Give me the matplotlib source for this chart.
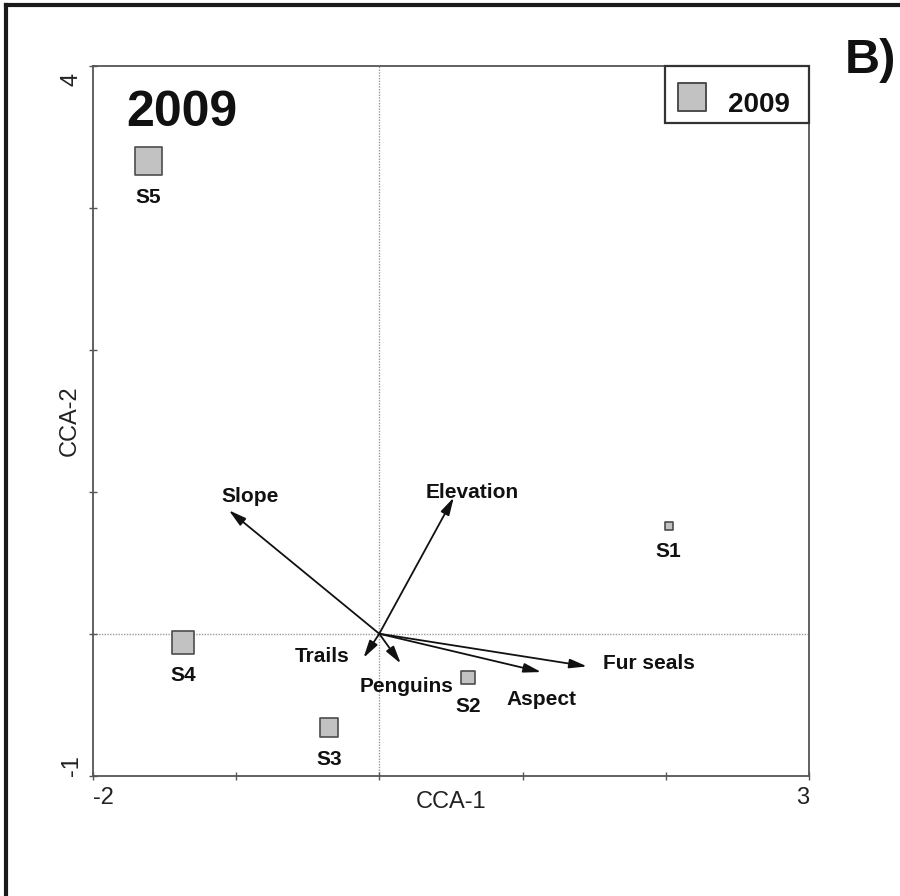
import matplotlib
matplotlib.use("Agg")
import matplotlib.pyplot as plt
from matplotlib.lines import Line2D
from matplotlib.patches import Rectangle
from matplotlib.transforms import ScaledTranslation

plt.rcParams['font.family'] = ['Liberation Sans', 'DejaVu Sans']

# site scores (CCA-1, CCA-2) and marker size
sites = ['S1', 'S2', 'S3', 'S4', 'S5']
site_x = [2.02, 0.62, -0.35, -1.37, -1.61]
site_y = [0.76, -0.31, -0.66, -0.06, 3.33]
site_size = [5.5, 9.5, 13.5, 16.5, 20.0]

# environmental variable arrows
env_vars = ['Slope', 'Elevation', 'Trails', 'Penguins', 'Aspect', 'Fur seals']
env_x = [-1.05, 0.52, -0.11, 0.15, 1.13, 1.45]
env_y = [0.87, 0.96, -0.17, -0.21, -0.27, -0.23]

year = '2009'

# where the arrow names sit (baseline centre)
env_lab_pos = [(-0.90, 0.93), (0.65, 0.955), (-0.40, -0.20),
               (0.19, -0.41), (1.13, -0.50), (1.88, -0.25)]

fill = '#c2c2c2'
edge = '#4d4d4d'
axcol = '#555555'

fig = plt.figure(figsize=(9, 8.96), dpi=100)
ax = fig.add_axes([0.103, 0.1343, 0.796, 0.792])
ax.set_xlim(-2, 3)
ax.set_ylim(-1, 4)

for s in ax.spines.values():
    s.set_color(axcol)
    s.set_linewidth(1.3)

ax.axhline(0, color='#9a9a9a', lw=1, ls=(0, (1, 1)), zorder=1)
ax.axvline(0, color='#9a9a9a', lw=1, ls=(0, (1, 1)), zorder=1)

# arrows
for name, x, y, (lx, ly) in zip(env_vars, env_x, env_y, env_lab_pos):
    ax.annotate('', xy=(x, y), xytext=(0, 0),
                arrowprops=dict(arrowstyle='-|>,head_length=0.75,head_width=0.2',
                                mutation_scale=14, color='#111111', lw=1.3,
                                shrinkA=0, shrinkB=0), zorder=3)
    ax.text(lx, ly, name, ha='center', va='baseline', fontsize=15,
            fontweight='bold', color='#111111', zorder=4)

# sites
ax.scatter(site_x, site_y, s=[v ** 2 for v in site_size], marker='s',
           facecolor=fill, edgecolor=edge, linewidth=1.2, zorder=5)
for name, x, y, sz in zip(sites, site_x, site_y, site_size):
    ax.annotate(name, xy=(x, y), xytext=(0, -(sz / 2 + 20)),
                textcoords='offset points', ha='center', va='baseline',
                fontsize=15, fontweight='bold', color='#111111')

# ticks
ax.set_xticks(range(-2, 4))
ax.set_yticks(range(-1, 5))
ax.set_xticklabels(['-2', '', '', '', '', '3'])
ax.set_yticklabels(['-1', '', '', '', '', '4'], rotation=90)
ax.tick_params(direction='inout', length=6, width=1, color=axcol,
               labelsize=17, labelcolor='#222222')
ax.tick_params(axis='x', pad=5)
ax.tick_params(axis='y', pad=4)
xl = ax.get_xticklabels()
xl[0].set_ha('left')
xl[-1].set_ha('right')
yl = ax.get_yticklabels()
yl[0].set_va('bottom')
yl[-1].set_va('top')
yl[-1].set_transform(yl[-1].get_transform() +
                     ScaledTranslation(0, -5 / 72, fig.dpi_scale_trans))

ax.set_xlabel('CCA-1', fontsize=17, color='#222222')
ax.xaxis.set_label_coords(0.5, -0.022)
ax.set_ylabel('CCA-2', fontsize=17, color='#222222')
ax.yaxis.set_label_coords(-0.016, 0.5)

# year title
ax.text(0.1247, 0.9155, year, transform=ax.transAxes, ha='center',
        va='baseline', fontsize=36, fontweight='bold', color='#111111')

# legend box
ax.add_patch(Rectangle((0.799, 0.9197), 0.201, 0.0803, transform=ax.transAxes,
                       facecolor='white', edgecolor='#333333', lw=1.6,
                       zorder=6, clip_on=False))
ax.scatter([0.8366], [0.957], s=20.5 ** 2, marker='s', facecolor=fill,
           edgecolor=edge, linewidth=1.4, transform=ax.transAxes, zorder=7,
           clip_on=False)
ax.text(0.930, 0.9356, year, transform=ax.transAxes, ha='center',
        va='baseline', fontsize=20, fontweight='bold', color='#111111',
        zorder=7)

# panel letter
fig.text(0.939, 0.9185, 'B)', ha='left', va='baseline', fontsize=35,
         fontweight='bold', color='#111111')

# outer frame (top and left edges)
fig.add_artist(Line2D([0.0072, 1.0], [0.9944, 0.9944], transform=fig.transFigure,
                      color='#1a1a1a', lw=3))
fig.add_artist(Line2D([0.0072, 0.0072], [0.0, 0.9944], transform=fig.transFigure,
                      color='#1a1a1a', lw=3))

fig.savefig('out.png', dpi=100, facecolor='white')
